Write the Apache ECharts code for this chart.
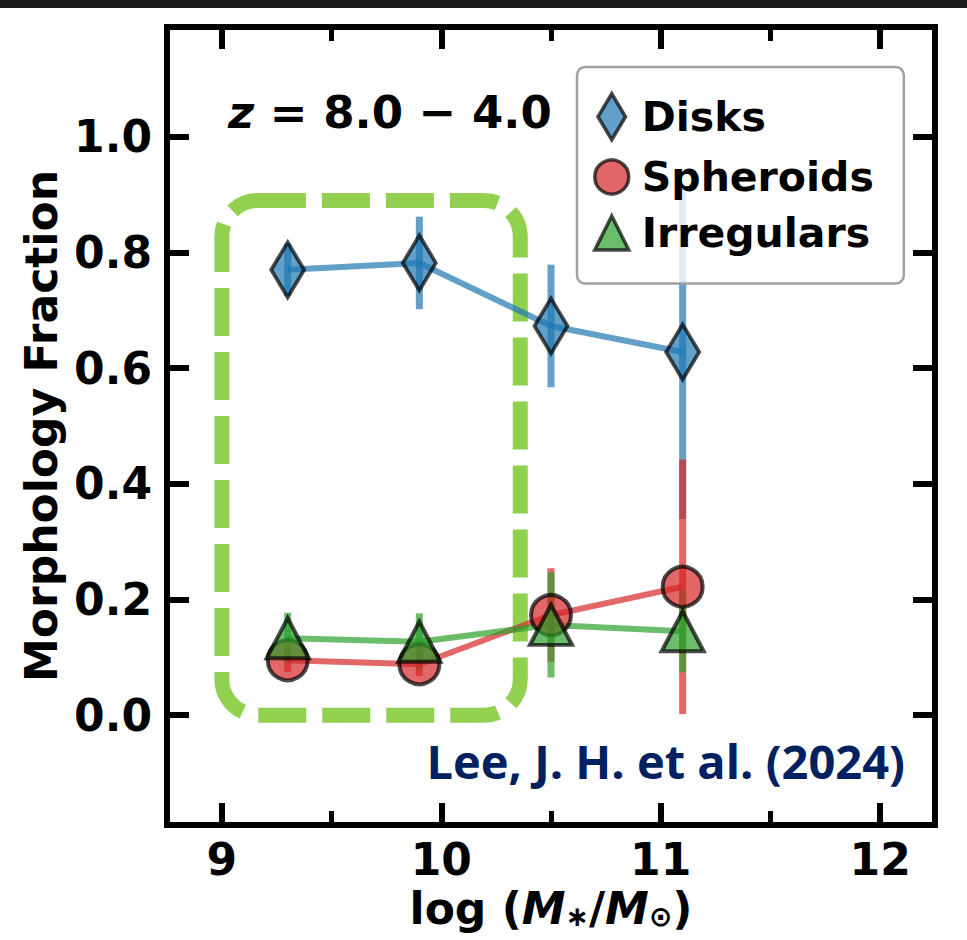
<!DOCTYPE html>
<html>
<head>
<meta charset="utf-8">
<title>Morphology Fraction vs stellar mass</title>
<script src="https://cdn.jsdelivr.net/npm/echarts@6/dist/echarts.min.js"></script>
<style>
  html, body { margin: 0; padding: 0; background: #fff; }
  #chart { width: 967px; height: 940px; }
</style>
</head>
<body>
<div id="chart"></div>
<script>
// data
const mass = [9.3, 9.9, 10.5, 11.1]
const disks = [0.770, 0.782, 0.673, 0.628]
const disksErr = [0.045, 0.080, 0.106, 0.289]
const spheroids = [0.095, 0.088, 0.173, 0.222]
const spheroidsErr = [0.020, 0.020, 0.081, 0.220]
const irregulars = [0.133, 0.127, 0.156, 0.145]
const irregularsErr = [0.044, 0.049, 0.091, 0.071]

const xTicks = [9, 10, 11, 12]
const yTicks = [0.0, 0.2, 0.4, 0.6, 0.8, 1.0]

// dashed highlight box (log mass, fraction)
const boxX = [9.0, 10.36]
const boxY = [0.0, 0.89]

const font = 'DejaVu Sans'
const blue = 'rgba(31,119,180,0.7)'
const red = 'rgba(214,39,40,0.7)'
const green = 'rgba(44,160,44,0.7)'
const edge = 'rgba(0,0,0,0.7)'

const chart = echarts.init(document.getElementById('chart'), null, { renderer: 'svg' })

function errorBars(name, ys, errs, color) {
  return {
    type: 'custom',
    name: name + ' err',
    silent: true,
    data: mass.map((x, i) => [x, ys[i] - errs[i], ys[i] + errs[i]]),
    encode: { x: 0, y: [1, 2] },
    renderItem(params, api) {
      const lo = api.coord([api.value(0), api.value(1)])
      const hi = api.coord([api.value(0), api.value(2)])
      return {
        type: 'line',
        shape: { x1: lo[0], y1: lo[1], x2: hi[0], y2: hi[1] },
        style: { stroke: color, lineWidth: 7 }
      }
    }
  }
}

function points(name, ys, color, symbol, size) {
  return {
    type: 'line',
    name,
    data: mass.map((x, i) => [x, ys[i]]),
    symbol,
    symbolSize: size,
    showAllSymbol: true,
    silent: true,
    lineStyle: { color, width: 6 },
    itemStyle: { color, borderColor: edge, borderWidth: 4 }
  }
}

const axisLine = { show: true, onZero: false, lineStyle: { color: '#000', width: 6, cap: 'square' } }
const noLine = { show: false, onZero: false }
const majorTick = { show: true, inside: true, length: 22, lineStyle: { color: '#000', width: 6 } }
const minorTick = { show: true, inside: true, length: 14, lineStyle: { color: '#000', width: 5 } }
const tickLabel = { fontFamily: font, fontWeight: 'bold', fontSize: 44, color: '#000' }

const xFmt = v => (xTicks.includes(v) ? String(v) : '')
const yFmt = v => {
  const t = yTicks.find(t => Math.abs(t - v) < 1e-6)
  return t === undefined ? '' : t.toFixed(1)
}

const xBase = { type: 'value', min: 8.75, max: 12.25, splitLine: { show: false } }
const yBase = { type: 'value', min: -0.19, max: 1.19, splitNumber: 7, splitLine: { show: false } }

chart.setOption({
  animation: false,
  backgroundColor: '#fff',
  grid: { left: 167, right: 32, top: 27, bottom: 115, outerBoundsMode: 'none', containLabel: false },
  xAxis: [
    Object.assign({}, xBase, {
      position: 'bottom', splitNumber: 4,
      axisLine, axisTick: majorTick,
      axisLabel: Object.assign({ formatter: xFmt, margin: 12 }, tickLabel),
      name: '{n|log (}{i|M}{s|∗}{n|/}{i|M}{s|⊙}{n|)}',
      nameLocation: 'middle',
      nameGap: 61,
      nameTextStyle: {
        rich: {
          n: { fontFamily: font, fontWeight: 'bold', fontSize: 44, lineHeight: 44, color: '#000' },
          i: { fontFamily: font, fontWeight: 'bold', fontStyle: 'italic', fontSize: 44, lineHeight: 44, color: '#000' },
          s: { fontFamily: font, fontWeight: 'bold', fontSize: 28, lineHeight: 28, padding: [16, 0, 0, 0], color: '#000' }
        }
      }
    }),
    Object.assign({}, xBase, {
      position: 'bottom', splitNumber: 7,
      axisLine: noLine, axisTick: minorTick, axisLabel: { show: false }
    }),
    Object.assign({}, xBase, {
      position: 'top', splitNumber: 4,
      axisLine, axisTick: majorTick, axisLabel: { show: false }
    }),
    Object.assign({}, xBase, {
      position: 'top', splitNumber: 7,
      axisLine: noLine, axisTick: minorTick, axisLabel: { show: false }
    })
  ],
  yAxis: [
    Object.assign({}, yBase, {
      position: 'left',
      axisLine, axisTick: majorTick,
      axisLabel: Object.assign({ formatter: yFmt, margin: 15 }, tickLabel),
      name: 'Morphology Fraction',
      nameLocation: 'middle',
      nameRotate: 90,
      nameGap: 95,
      nameTextStyle: { fontFamily: font, fontWeight: 'bold', fontSize: 44, color: '#000' }
    }),
    Object.assign({}, yBase, {
      position: 'right',
      axisLine, axisTick: majorTick, axisLabel: { show: false }
    })
  ],
  legend: {
    orient: 'vertical',
    left: 577,
    top: 67,
    padding: [25, 30, 30, 16],
    itemGap: 15,
    itemWidth: 34,
    itemHeight: 46,
    selectedMode: false,
    backgroundColor: 'rgba(255,255,255,0.8)',
    borderColor: '#a0a0a0',
    borderWidth: 2.5,
    borderRadius: 8,
    textStyle: { fontFamily: font, fontWeight: 'bold', fontSize: 41, color: '#000', padding: [0, 0, 0, 8] },
    data: [
      { name: 'Disks', icon: 'path://M0,-1L0.6,0L0,1L-0.6,0Z', itemStyle: { color: blue, borderColor: edge, borderWidth: 3.5 } },
      { name: 'Spheroids', icon: 'circle', itemStyle: { color: red, borderColor: edge, borderWidth: 3.5 } },
      { name: 'Irregulars', icon: 'path://M0,-1L1,1L-1,1Z', itemStyle: { color: green, borderColor: edge, borderWidth: 3.5 } }
    ]
  },
  series: [
    errorBars('Disks', disks, disksErr, blue),
    points('Disks', disks, blue, 'diamond', [33, 55]),
    errorBars('Spheroids', spheroids, spheroidsErr, red),
    points('Spheroids', spheroids, red, 'circle', 40),
    errorBars('Irregulars', irregulars, irregularsErr, green),
    points('Irregulars', irregulars, green, 'triangle', [42, 40]),
    {
      // the dashed green highlight sits on top of the data
      type: 'custom',
      name: 'highlight',
      silent: true,
      z: 3,
      data: [[boxX[0], boxY[0], boxX[1], boxY[1]]],
      encode: { x: [0, 2], y: [1, 3] },
      renderItem(params, api) {
        const tl = api.coord([api.value(0), api.value(3)])
        const br = api.coord([api.value(2), api.value(1)])
        return {
          type: 'rect',
          shape: { x: tl[0], y: tl[1], width: br[0] - tl[0], height: br[1] - tl[1], r: 36 },
          style: { fill: 'none', stroke: '#92d050', lineWidth: 15, lineDash: [48, 16] }
        }
      }
    }
  ],
  graphic: [
    { type: 'rect', left: 0, top: 0, shape: { width: 967, height: 8 }, style: { fill: '#1b1b1b' } },
    {
      type: 'text', left: 228, top: 90,
      style: {
        text: '{i|z} = 8.0 − 4.0',
        font: 'bold 45px "DejaVu Sans"',
        fill: '#000',
        rich: { i: { fontFamily: font, fontWeight: 'bold', fontStyle: 'italic', fontSize: 45 } }
      }
    },
    {
      type: 'text', right: 62, top: 737,
      style: { text: 'Lee, J. H. et al. (2024)', font: 'bold 47px "Open Sans"', fill: '#002060' }
    }
  ]
})
</script>
</body>
</html>
